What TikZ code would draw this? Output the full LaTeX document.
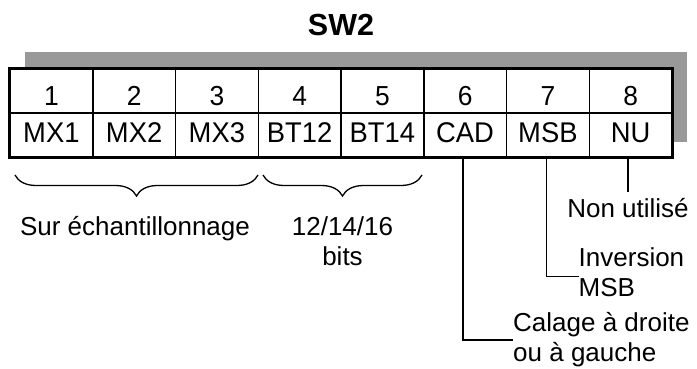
\documentclass[tikz,border=0pt]{standalone}
\usepackage{fontspec}
\setmainfont{Liberation Sans}
\newfontfamily\narrowfont[FakeStretch=0.96]{Liberation Sans}
\usetikzlibrary{decorations.pathreplacing}
\definecolor{shadowgray}{HTML}{999999}
\newcommand\txtfs{\fontsize{26}{30}\selectfont}
\newcommand\numfs{\narrowfont\fontsize{27.5}{30}\selectfont}
\newcommand\celfs{\narrowfont\fontsize{28.5}{30}\selectfont}
\newcommand\ttlfs{\fontsize{30.5}{34}\selectfont\bfseries}
\tikzset{
  cellbox/.style={draw, line width=1.5pt, fill=white, minimum width=82.75pt, minimum height=44pt, inner sep=0pt, text depth=0pt},
  toprow/.style={cellbox, font=\numfs, text height=29pt},
  botrow/.style={cellbox, font=\celfs, text height=14.6pt},
  lbl/.style={inner sep=0pt, font=\txtfs},
  conn/.style={line width=1.5pt},
  bracestyle/.style={line width=1.3pt, decorate, decoration={brace, mirror, amplitude=21pt}}
}
\begin{document}
\begin{tikzpicture}[x=1pt,y=1pt]
\useasboundingbox (0,0) rectangle (697,-369);
% title
\node[anchor=base, inner sep=0pt, font=\ttlfs] (title) at (341,-36) {SW2};
% shadow
\fill[shadowgray] (25,-52) rectangle (687,-142);
% cells
\foreach \i/\n/\l in {1/1/MX1,2/2/MX2,3/3/MX3,4/4/BT12,5/5/BT14,6/6/CAD,7/7/MSB,8/8/NU}{
  \node[toprow] (n\i) at ({10+82.75*(\i-0.5)},-91) {\n};
  \node[botrow] (l\i) at ({10+82.75*(\i-0.5)},-135) {\l};
}
\draw[line width=3pt] (n1.north west) rectangle (l8.south east);
% braces
\coordinate (b1s) at (15,-175);
\coordinate (b1e) at (258,-175);
\coordinate (b2s) at (263,-175);
\coordinate (b2e) at (422,-175);
\draw[bracestyle] (b1s) -- (b1e);
\draw[bracestyle] (b2s) -- (b2e);
% bottom labels
\node[lbl, anchor=base] (sur) at (135,-235) {Sur échantillonnage};
\node[lbl, anchor=north, align=center] (bits) at (342.5,-216) {12/14/16\\bits};
% right labels
\node[lbl, anchor=base, text height=25pt] (nonu) at (628,-217.5) {Non utilisé};
\node[lbl, anchor=west, align=left, text depth=10pt] (inv) at (578.5,-276.7) {Inversion\\MSB};
\node[lbl, anchor=west, align=left] (cal) at (513,-340) {Calage à droite\\ou à gauche};
% connectors
\draw[conn] (nonu.north |- l8.south) -- (nonu.north);
\draw[conn] ([xshift=-1.5pt]l7.south) |- (inv.west);
\draw[conn] ([xshift=-2pt]l6.south) |- (cal.west);
\end{tikzpicture}
\end{document}
